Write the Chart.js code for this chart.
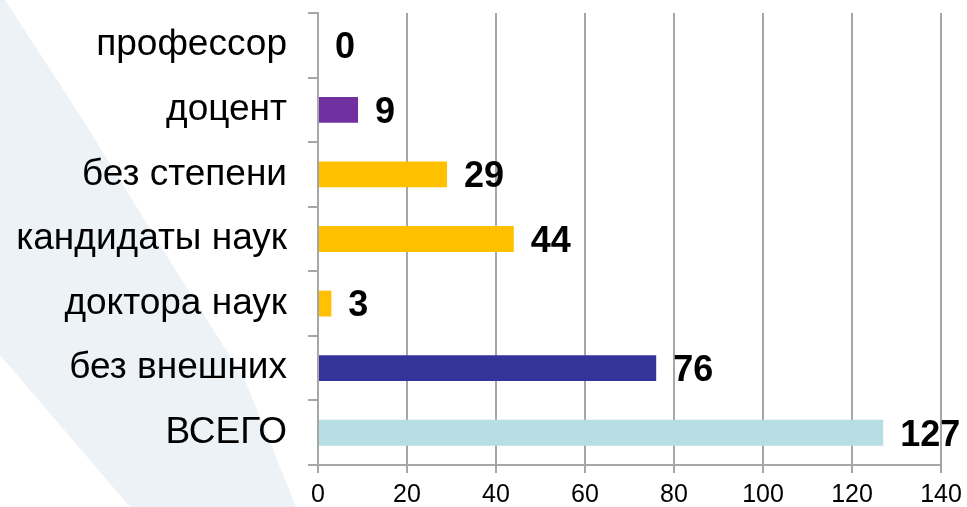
<!DOCTYPE html>
<html>
<head>
<meta charset="utf-8">
<script src="https://cdn.jsdelivr.net/npm/chart.js@4/dist/chart.umd.min.js"></script>
<style>
  html, body { margin: 0; padding: 0; background: #fff; }
  #wrap { width: 967px; height: 507px; }
</style>
</head>
<body>
<div id="wrap"><canvas id="chart" width="967" height="507"></canvas></div>
<script>
// categories, top to bottom
const categories = ["профессор", "доцент", "без степени", "кандидаты наук", "доктора наук", "без внешних", "ВСЕГО"];
const values = [0, 9, 29, 44, 3, 76, 127];
const barColors = ["#7030a0", "#7030a0", "#ffc000", "#ffc000", "#ffc000", "#333399", "#b7dfe3"];
const xTicks = [0, 20, 40, 60, 80, 100, 120, 140];

const FONT = "'Liberation Sans', Arial, sans-serif";

// pale diagonal band behind the labels
const bandPlugin = {
    id: 'band',
    beforeDraw(chart) {
        const ctx = chart.ctx;
        ctx.save();
        ctx.fillStyle = "#edf2f7";
        ctx.beginPath();
        ctx.moveTo(0, 0);
        ctx.lineTo(5, 0);
        ctx.lineTo(83, 120);
        ctx.lineTo(163, 250);
        ctx.lineTo(245, 380);
        ctx.lineTo(296, 507);
        ctx.lineTo(130, 507);
        ctx.lineTo(0, 355);
        ctx.closePath();
        ctx.fill();
        ctx.restore();
    }
};

// value labels right of each bar
const valueLabels = {
    id: 'valueLabels',
    afterDatasetsDraw(chart) {
        const ctx = chart.ctx;
        const meta = chart.getDatasetMeta(0);
        ctx.save();
        ctx.font = "bold 36px " + FONT;
        ctx.fillStyle = "#000";
        ctx.textAlign = "left";
        ctx.textBaseline = "middle";
        meta.data.forEach((bar, i) => {
            ctx.fillText(String(values[i]), bar.x + 17, bar.y + 3);
        });
        ctx.restore();
    }
};

new Chart(document.getElementById("chart").getContext("2d"), {
    type: 'bar',
    data: {
        labels: categories,
        datasets: [{
            data: values,
            backgroundColor: barColors,
            borderWidth: 0,
            categoryPercentage: 0.8,
            barPercentage: 0.5
        }]
    },
    options: {
        indexAxis: 'y',
        responsive: false,
        animation: false,
        layout: { padding: { top: 13, right: 26, left: 0, bottom: 0 } },
        plugins: {
            legend: { display: false },
            tooltip: { enabled: false }
        },
        scales: {
            x: {
                min: 0,
                max: 140,
                afterFit(scale) {
                    scale.height = 42;
                    scale.paddingLeft = 0;
                    scale.paddingRight = 0;
                },
                afterBuildTicks(scale) { scale.ticks = xTicks.map(v => ({ value: v })); },
                grid: { color: "#a6a6a6", lineWidth: 2, tickLength: 8 },
                border: { display: true, color: "#a6a6a6", width: 2 },
                ticks: { color: "#000", font: { family: FONT, size: 25 }, padding: 7 }
            },
            y: {
                afterFit(scale) {
                    scale.width = 318;
                    scale.paddingTop = 0;
                    scale.paddingBottom = 0;
                },
                grid: { drawOnChartArea: false, color: "#a6a6a6", lineWidth: 2, tickLength: 10, offset: true },
                border: { display: true, color: "#a6a6a6", width: 2 },
                ticks: { color: "#000", font: { family: FONT, size: 37 }, padding: 21 }
            }
        }
    },
    plugins: [bandPlugin, valueLabels]
});
</script>
</body>
</html>
